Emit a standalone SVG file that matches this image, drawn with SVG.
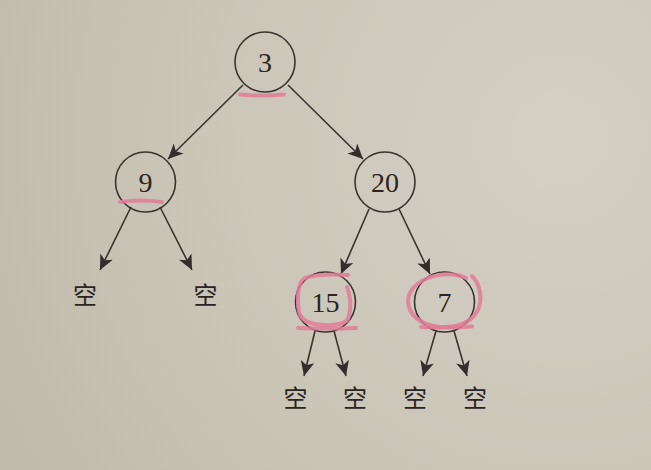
<svg xmlns="http://www.w3.org/2000/svg" width="651" height="470" viewBox="0 0 651 470">
  <defs>
    <radialGradient id="bg" cx="560" cy="140" r="620" gradientUnits="userSpaceOnUse">
      <stop offset="0" stop-color="#d5d0c4"/>
      <stop offset="0.6" stop-color="#cbc5b8"/>
      <stop offset="1" stop-color="#c1bbae"/>
    </radialGradient>
    <marker id="arrow" markerUnits="userSpaceOnUse" markerWidth="16" markerHeight="14" refX="15" refY="7" orient="auto" viewBox="0 0 16 14">
      <path d="M0,0 L15,7 L0,14 L4,7 Z" fill="#332e29"/>
    </marker>
    <style>
      .node circle { fill: none; stroke: #38332e; stroke-width: 1.6; }
      .num { font-family: "Liberation Serif", "DejaVu Serif", serif; font-size: 28px; fill: #2a2520; text-anchor: middle; }
      .empty { font-family: "Noto Sans CJK SC", "Noto Sans", sans-serif; font-size: 24px; fill: #2a2520; text-anchor: middle; }
      .edges line { stroke: #38332e; stroke-width: 1.6; marker-end: url(#arrow); }
      .mark { fill: none; stroke: #e07b98; stroke-width: 4; stroke-linecap: round; stroke-linejoin: round; opacity: 0.85; }
    </style>
  </defs>
  <rect width="651" height="470" fill="url(#bg)"/>

  <g id="connectors" class="edges">
    <line x1="243" y1="85" x2="168" y2="159"/>
    <line x1="288" y1="85" x2="363" y2="159"/>
    <line x1="131" y1="207" x2="100" y2="270"/>
    <line x1="160" y1="207" x2="192" y2="270"/>
    <line x1="369" y1="209" x2="341" y2="274"/>
    <line x1="399" y1="209" x2="430" y2="274"/>
    <line x1="315" y1="331" x2="304" y2="376"/>
    <line x1="334" y1="331" x2="346" y2="376"/>
    <line x1="436" y1="331" x2="423" y2="376"/>
    <line x1="454" y1="331" x2="467" y2="376"/>
  </g>

  <g id="node-3" class="node">
    <circle cx="265" cy="62" r="30"/>
    <text class="num" x="265" y="71.5">3</text>
  </g>
  <g id="node-9" class="node">
    <circle cx="145.5" cy="182" r="30"/>
    <text class="num" x="145.5" y="191.5">9</text>
  </g>
  <g id="node-20" class="node">
    <circle cx="385" cy="182" r="30"/>
    <text class="num" x="385" y="191.5">20</text>
  </g>
  <g id="node-15" class="node">
    <circle cx="325.5" cy="302" r="30"/>
    <text class="num" x="325.5" y="311.5">15</text>
  </g>
  <g id="node-7" class="node">
    <circle cx="444.5" cy="302" r="30"/>
    <text class="num" x="444.5" y="311.5">7</text>
  </g>

  <g id="empty-labels">
    <text class="empty" x="85" y="304">空</text>
    <text class="empty" x="205.5" y="304">空</text>
    <text class="empty" x="295.5" y="407">空</text>
    <text class="empty" x="355" y="407">空</text>
    <text class="empty" x="415" y="407">空</text>
    <text class="empty" x="475" y="407">空</text>
  </g>

  <g id="highlights">
    <path class="mark" d="M240,94.5 Q262,96.5 284,94.5"/>
    <path class="mark" d="M120,202 Q141,199 162,202"/>
    <path class="mark" d="M348,275 C330,274 314,275 305,278 C297,282 297,300 299,312 C301,322 312,325 327,325 C340,325 348,323 349,316 C351,308 351,298 347,287"/>
    <path class="mark" d="M298,328 Q327,329 356,328"/>
    <path class="mark" d="M466,278 C456,273 440,273 428,278 C414,284 408,292 408,302 C409,315 420,325 440,327 C458,328 472,322 478,310 C483,298 480,284 472,276"/>
    <path class="mark" d="M421,327 Q446,328 472,326.5"/>
  </g>
</svg>
